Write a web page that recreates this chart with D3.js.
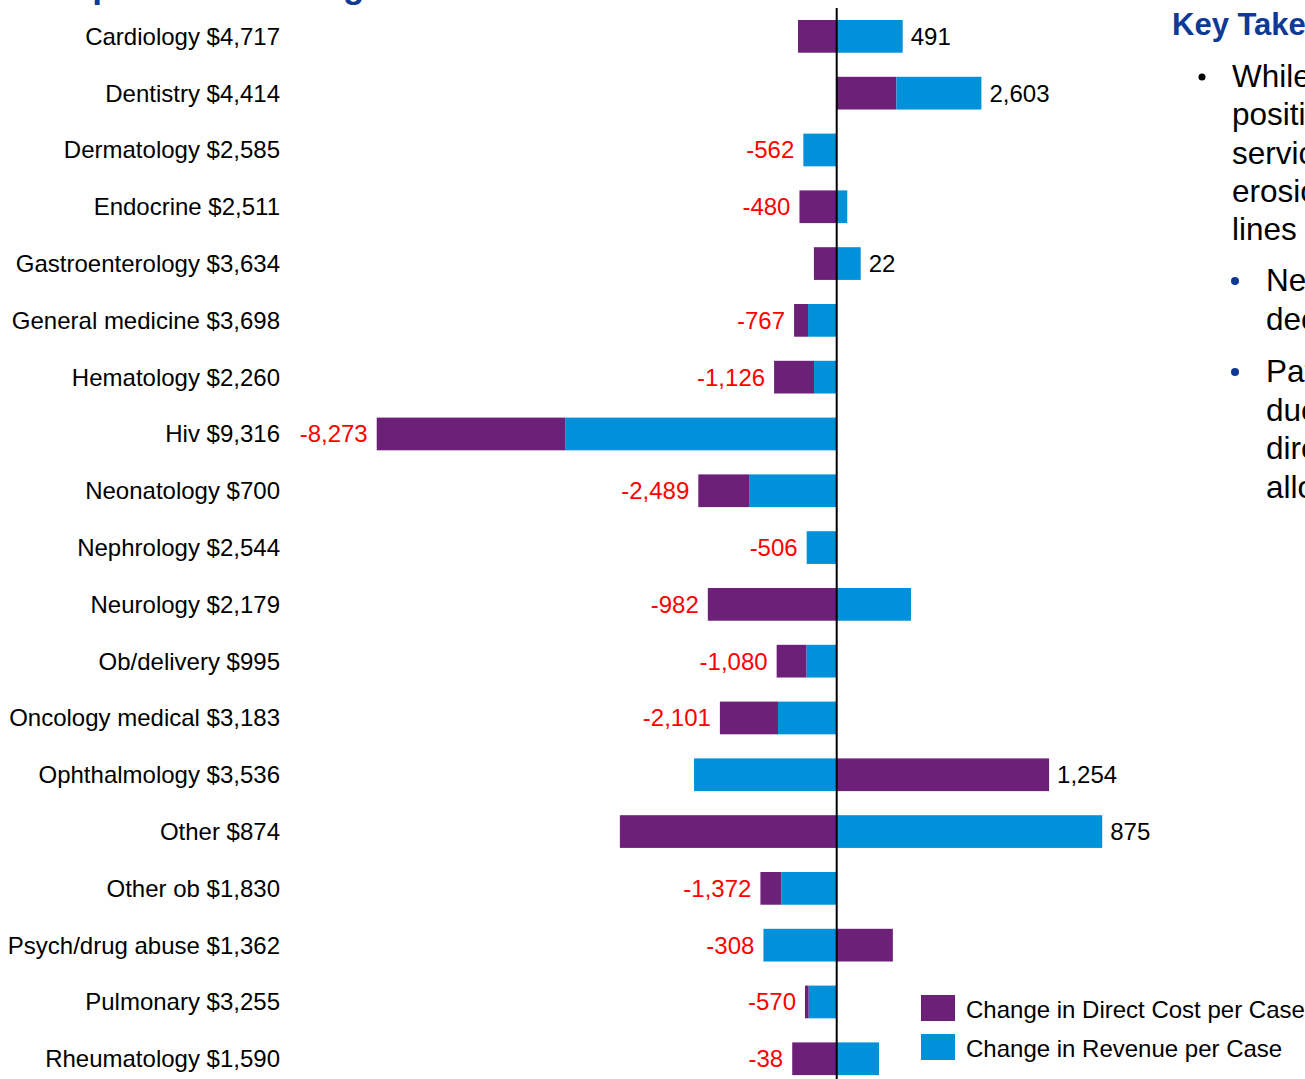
<!DOCTYPE html>
<html>
<head>
<meta charset="utf-8">
<script src="https://cdn.jsdelivr.net/npm/d3@7"></script>
<style>
  html, body { margin: 0; padding: 0; background: #fff; overflow: hidden; }
  svg { display: block; font-family: "Liberation Sans", Arial, sans-serif; }
</style>
</head>
<body>
<svg id="chart" width="1305" height="1079"></svg>
<script>
// ---- data ----
const serviceLines = ["Cardiology", "Dentistry", "Dermatology", "Endocrine", "Gastroenterology",
  "General medicine", "Hematology", "Hiv", "Neonatology", "Nephrology", "Neurology",
  "Ob/delivery", "Oncology medical", "Ophthalmology", "Other", "Other ob",
  "Psych/drug abuse", "Pulmonary", "Rheumatology"];
const baseAmounts = ["$4,717", "$4,414", "$2,585", "$2,511", "$3,634", "$3,698", "$2,260",
  "$9,316", "$700", "$2,544", "$2,179", "$995", "$3,183", "$3,536", "$874", "$1,830",
  "$1,362", "$3,255", "$1,590"];
// change in direct cost per case (margin impact, signed)
const directCostChange = [-696, 1075, 0, -670, -410, -252, -719, -3390, -914, 0, -2318,
  -535, -1045, 3820, -3900, -375, 1010, -65, -800];
// change in revenue per case (signed)
const revenueChange = [1187, 1528, -600, 190, 432, -515, -407, -4883, -1575, -540, 1336,
  -545, -1056, -2566, 4775, -997, -1318, -505, 762];
// net margin change labels
const netChange = [491, 2603, -562, -480, 22, -767, -1126, -8273, -2489, -506, -982,
  -1080, -2101, 1254, 875, -1372, -308, -570, -38];
const legendLabels = ["Change in Direct Cost per Case", "Change in Revenue per Case"];

const titleText = "Components of Margin Erosion";
const takeawayTitle = "Key Takeaways";
const bulletLines = ["While some service lines showed", "positive margin changes, most",
  "service lines experienced margin", "erosion across service", "lines"];
const sub1Lines = ["Neonatology margin decline driven", "decreased revenue per case"];
const sub2Lines = ["Pathology changes were", "due to higher", "direct cost", "allocations"];

// ---- styles ----
const PURPLE = "#6C2077";
const BLUE = "#0091DA";
const NAVY = "#0E3A96";
const FONT = 24;

const svg = d3.select("#chart");
svg.append("rect").attr("width", 1305).attr("height", 1079).attr("fill", "#fff");

const data = serviceLines.map((s, i) => ({
  name: s + " " + baseAmounts[i],
  cost: directCostChange[i],
  rev: revenueChange[i],
  net: netChange[i]
}));

const k = 0.0556;
const zeroX = 836.7;
const x = d3.scaleLinear().domain([-9000, 8000]).range([zeroX - 9000 * k, zeroX + 8000 * k]);
const step = 56.8;
const y = d3.scaleBand().domain(data.map(d => d.name))
  .range([20 - 0.212 * step, 20 - 0.212 * step + data.length * step])
  .paddingInner(0.424).paddingOuter(0.212);

// stacked segments: positive -> purple then blue, negative -> blue then purple
const segs = [];
data.forEach(d => {
  let pos = 0, neg = 0;
  const order = [
    { key: "cost", v: d.cost, color: PURPLE },
    { key: "rev", v: d.rev, color: BLUE }
  ];
  order.forEach(o => {
    if (o.v > 0) { segs.push({ d, x0: pos, x1: pos + o.v, color: o.color }); pos += o.v; }
  });
  order.slice().reverse().forEach(o => {
    if (o.v < 0) { segs.push({ d, x0: neg + o.v, x1: neg, color: o.color }); neg += o.v; }
  });
  d.posEnd = pos; d.negEnd = neg;
});

svg.append("g").selectAll("rect").data(segs).join("rect")
  .attr("x", s => x(s.x0))
  .attr("width", s => x(s.x1) - x(s.x0))
  .attr("y", s => y(s.d.name))
  .attr("height", y.bandwidth())
  .attr("fill", s => s.color);

// zero line
svg.append("line")
  .attr("x1", x(0)).attr("x2", x(0))
  .attr("y1", 8).attr("y2", 1079)
  .attr("stroke", "#000").attr("stroke-width", 2);

// category labels
svg.append("g").selectAll("text").data(data).join("text")
  .attr("x", 280)
  .attr("y", d => y(d.name) + y.bandwidth() / 2)
  .attr("dy", "0.35em")
  .attr("text-anchor", "end")
  .attr("font-size", FONT)
  .attr("fill", "#000")
  .text(d => d.name);

// net labels
const fmt = d3.format(",");
svg.append("g").selectAll("text").data(data).join("text")
  .attr("x", d => d.net >= 0 ? x(d.posEnd) + 8 : x(d.negEnd) - 9)
  .attr("y", d => y(d.name) + y.bandwidth() / 2)
  .attr("dy", "0.35em")
  .attr("text-anchor", d => d.net >= 0 ? "start" : "end")
  .attr("font-size", FONT)
  .attr("fill", d => d.net >= 0 ? "#000" : "#FF0000")
  .text(d => fmt(d.net).replace("−", "-"));

// legend
const legend = svg.append("g");
[PURPLE, BLUE].forEach((c, i) => {
  legend.append("rect").attr("x", 921).attr("y", 995 + i * 39).attr("width", 34).attr("height", 26).attr("fill", c);
  legend.append("text").attr("x", 966).attr("y", 1009.5 + i * 39).attr("dy", "0.35em")
    .attr("font-size", FONT).attr("fill", "#000").text(legendLabels[i]);
});

// title (mostly above the visible area)
svg.append("text").attr("x", 14.5).attr("y", -2).attr("font-size", 35).attr("font-weight", "bold")
  .attr("fill", NAVY).text(titleText);

// key takeaways panel
svg.append("text").attr("x", 1172).attr("y", 35).attr("font-size", 31).attr("font-weight", "bold")
  .attr("fill", NAVY).text(takeawayTitle);

const TF = 31.5;
svg.append("circle").attr("cx", 1202).attr("cy", 77).attr("r", 3.5).attr("fill", "#000");
bulletLines.forEach((t, i) => {
  svg.append("text").attr("x", 1232).attr("y", 87 + i * 38.3).attr("font-size", TF).attr("fill", "#000").text(t);
});
svg.append("circle").attr("cx", 1235).attr("cy", 281).attr("r", 4).attr("fill", NAVY);
sub1Lines.forEach((t, i) => {
  svg.append("text").attr("x", 1266).attr("y", 291 + i * 39).attr("font-size", TF).attr("fill", "#000").text(t);
});
svg.append("circle").attr("cx", 1235).attr("cy", 372).attr("r", 4).attr("fill", NAVY);
sub2Lines.forEach((t, i) => {
  svg.append("text").attr("x", 1266).attr("y", 382 + i * 38.7).attr("font-size", TF).attr("fill", "#000").text(t);
});
</script>
</body>
</html>
